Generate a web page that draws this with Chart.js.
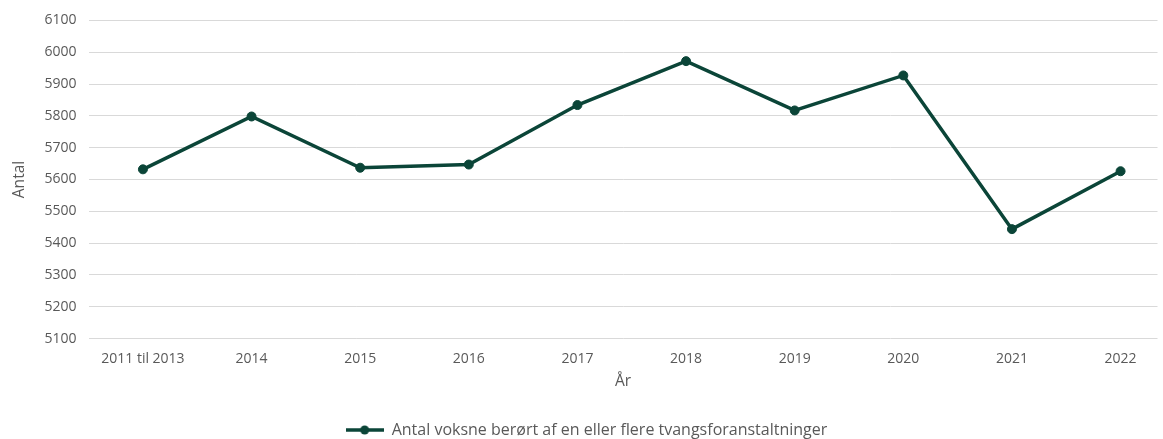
<!DOCTYPE html>
<html>
<head>
<meta charset="utf-8">
<script src="https://cdn.jsdelivr.net/npm/chart.js@4/dist/chart.umd.min.js"></script>
<style>
html,body{margin:0;padding:0;background:#fff;}
#wrap{width:1163px;height:439px;position:relative;}
</style>
</head>
<body>
<div id="wrap"><canvas id="c" width="1163" height="439"></canvas></div>
<script>
const categories = ["2011 til 2013","2014","2015","2016","2017","2018","2019","2020","2021","2022"];
const values = [5632, 5798, 5637, 5647, 5834, 5972, 5817, 5927, 5444, 5626];
const seriesName = "Antal voksne berørt af en eller flere tvangsforanstaltninger";
const yTicks = [5100,5200,5300,5400,5500,5600,5700,5800,5900,6000,6100];

const lineColor = "#0b4538";
const textColor = "#595959";
const fontFamily = "'Open Sans', Lato, sans-serif";

// legend symbol: line with dot
const sym = document.createElement('canvas');
sym.width = 38; sym.height = 12;
(function(){
  const g = sym.getContext('2d');
  g.strokeStyle = lineColor; g.lineWidth = 3.5;
  g.beginPath(); g.moveTo(0,6); g.lineTo(38,6); g.stroke();
  g.fillStyle = lineColor;
  g.beginPath(); g.arc(19,6,4.5,0,Math.PI*2); g.fill();
})();

new Chart(document.getElementById('c'), {
  type: 'line',
  data: {
    datasets: [{
      label: seriesName,
      data: values.map((v,i)=>({x:i, y:v})),
      borderColor: lineColor,
      backgroundColor: lineColor,
      borderWidth: 3.5,
      pointRadius: 4.5,
      pointBorderWidth: 1,
      pointHoverRadius: 4.5,
      pointStyle: 'circle',
      tension: 0
    }]
  },
  options: {
    responsive: false,
    animation: false,
    layout: { padding: { left: 10, right: 0, top: 20, bottom: -9 } },
    scales: {
      x: {
        type: 'linear',
        min: -0.5,
        max: 9.34,
        afterBuildTicks: (axis) => { axis.ticks = categories.map((_,i)=>({value:i})); },
        grid: { display: false },
        border: { display: false },
        ticks: {
          color: textColor,
          font: { family: fontFamily, size: 14 },
          padding: 4,
          maxRotation: 0,
          callback: (v) => categories[v] ?? ''
        },
        title: { display: true, text: 'År', color: textColor, font: { family: fontFamily, size: 15.5 }, padding: { top: 1, bottom: 9 } }
      },
      y: {
        min: 5100,
        max: 6100,
        afterBuildTicks: (axis) => { axis.ticks = yTicks.map(v=>({value:v})); },
        grid: { color: '#d9d9d9', lineWidth: 1, drawTicks: false },
        border: { display: false },
        ticks: {
          color: textColor,
          font: { family: fontFamily, size: 14 },
          padding: 12,
          callback: (v) => String(v)
        },
        title: { display: true, text: 'Antal', color: textColor, font: { family: fontFamily, size: 15.5 }, padding: { top: 0, bottom: 4 } }
      }
    },
    plugins: {
      legend: {
        position: 'bottom',
        labels: {
          color: textColor,
          font: { family: fontFamily, size: 16 },
          usePointStyle: true,
          pointStyle: sym,
          pointStyleWidth: 38,
          boxHeight: 12,
          padding: 22
        }
      },
      tooltip: { enabled: false }
    }
  }
});
</script>
</body>
</html>
